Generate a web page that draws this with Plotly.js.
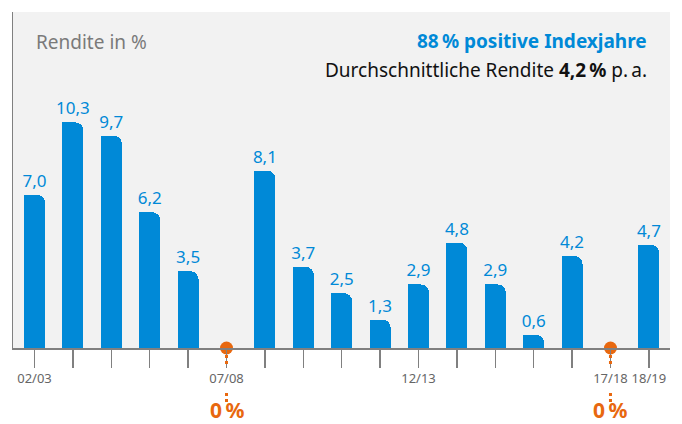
<!DOCTYPE html>
<html><head><meta charset="utf-8">
<script src="https://cdn.plot.ly/plotly-3.0.1.min.js"></script>
<style>html,body{margin:0;padding:0;background:#fff}#c{width:682px;height:424px}</style>
</head><body><div id="c"></div>
<script>
const categories = ['02/03','03/04','04/05','05/06','06/07','07/08','08/09','09/10','10/11','11/12','12/13','13/14','14/15','15/16','16/17','17/18','18/19'];
const returns = [7.0, 10.3, 9.7, 6.2, 3.5, 0, 8.1, 3.7, 2.5, 1.3, 2.9, 4.8, 2.9, 0.6, 4.2, 0, 4.7];
const shownTickLabels = ['02/03','07/08','12/13','17/18','18/19'];
const titleText = 'Rendite in %';
const headline = '88\u2009% positive Indexjahre';
const subline = 'Durchschnittliche Rendite <b>4,2\u2009%</b> p.\u2009a.';
const zeroText = '0\u2009%';

const BLUE = '#0089d7', ORANGE = '#e8680f', GRAY = '#808080';
const FONT = 'Noto Sans, Open Sans, sans-serif';
const plotL = 13, plotR = 670, plotT = 12, plotB = 348;
const py = p => (plotB - p) / (plotB - plotT);
const px = p => (p - plotL) / (plotR - plotL);

const idx = categories.map((_, i) => i);
const W = 0.547;
const labels = returns.map(v => v > 0 ? v.toFixed(1).replace('.', ',') : '');
const zeroIdx = idx.filter(i => returns[i] === 0);

const traces = [
  {type:'bar', x: idx, y: returns, width: W, offset: -W/2, marker:{color:BLUE, cornerradius:8},
   text: labels, textposition:'outside', cliponaxis:false, constraintext:'none',
   textfont:{family:FONT, size:17, color:BLUE}, hoverinfo:'skip'},
  {type:'bar', x: idx, y: returns, width: W/2, offset: -W/2, marker:{color:BLUE},
   hoverinfo:'skip'},
  {type:'scatter', mode:'markers', x: zeroIdx, y: zeroIdx.map(i => returns[i]), cliponaxis:false,
   marker:{color:ORANGE, size:13}, hoverinfo:'skip'}
];

const shapes = [];
zeroIdx.forEach(i => {
  [[355,366],[393,402]].forEach(([a,b]) => shapes.push({type:'line', xref:'x', yref:'paper', x0:i, x1:i,
    y0:py(a), y1:py(b), line:{color:ORANGE, width:3, dash:'3px,3px'}}));
});

const annotations = [
  {xref:'paper', yref:'paper', x:px(34), y:py(42), xanchor:'left', yanchor:'middle', showarrow:false,
   text:titleText, font:{family:FONT, size:19, color:'#7a7a7a'}},
  {xref:'paper', yref:'paper', x:px(649), y:py(41), xanchor:'right', yanchor:'middle', showarrow:false,
   text:'<b>'+headline+'</b>', font:{family:FONT, size:19, color:BLUE}},
  {xref:'paper', yref:'paper', x:px(649), y:py(70), xanchor:'right', yanchor:'middle', showarrow:false,
   text:subline, font:{family:FONT, size:19, color:'#111'}}
];
zeroIdx.forEach(i => annotations.push({xref:'x', yref:'paper', x:i, y:py(410), xanchor:'center', yanchor:'middle',
  showarrow:false, text:'<b>'+zeroText+'</b>', font:{family:FONT, size:21, color:ORANGE}}));

const layout = {
  width:682, height:424, margin:{l:plotL, r:682-plotR, t:plotT, b:424-plotB},
  paper_bgcolor:'#fff', plot_bgcolor:'#f2f2f2', showlegend:false, barmode:'overlay', bargap:0,
  xaxis:{range:[-0.56, 16.55], tickvals: idx, ticktext: categories.map(c => shownTickLabels.includes(c) ? c : ''),
    tickangle:0, ticks:'outside', ticklen:18, tickwidth:1.5, tickcolor:GRAY, showline:true, linecolor:GRAY, linewidth:1.5,
    showgrid:false, zeroline:false, tickfont:{family:FONT, size:13, color:'#666'}, fixedrange:true},
  yaxis:{range:[0, 15.34], showline:true, linecolor:GRAY, linewidth:1.5, showgrid:false, zeroline:false,
    showticklabels:false, ticks:'', fixedrange:true},
  shapes, annotations
};
Plotly.newPlot('c', traces, layout, {displayModeBar:false, staticPlot:true});
</script></body></html>
